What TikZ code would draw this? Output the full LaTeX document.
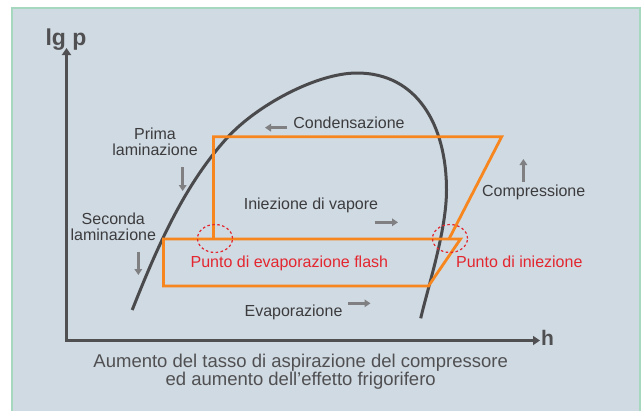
\documentclass[tikz,border=0pt]{standalone}
\usepackage{fontspec}
\setmainfont{Liberation Sans}
\usetikzlibrary{arrows.meta}
\definecolor{panel}{HTML}{D0DAE2}
\definecolor{panelborder}{HTML}{A6D8C0}
\definecolor{cycleorange}{HTML}{F7861F}
\definecolor{domegray}{HTML}{4A4A4C}
\definecolor{axisgray}{HTML}{505052}
\definecolor{arrowgray}{HTML}{808082}
\definecolor{labeltext}{HTML}{3C3C3E}
\definecolor{captiontext}{HTML}{505052}
\definecolor{markred}{HTML}{E3262F}
\tikzset{
  lbl/.style={font=\fontsize{16}{16}\selectfont, text=labeltext, inner sep=0pt, align=center},
  redlbl/.style={font=\fontsize{16}{16}\selectfont, text=markred, inner sep=0pt},
  axislbl/.style={font=\bfseries\fontsize{23}{23}\selectfont, text=axisgray, inner sep=0pt},
  axisline/.style={draw=axisgray, line width=3pt, -{Triangle[width=9pt,length=7pt]}},
  hint/.style={draw=arrowgray, line width=2.6pt, -{Triangle[width=7.5pt,length=6pt]}},
  cycleline/.style={draw=cycleorange, line width=2.8pt, line join=miter},
  dome/.style={draw=domegray, line width=3pt, line cap=butt},
  spot/.style={draw=markred, line width=1.2pt, dash pattern=on 2.5pt off 2.5pt},
}
\begin{document}
\begin{tikzpicture}[x=1pt,y=-1pt]
\useasboundingbox (0,0) rectangle (643,410);
% panel
\fill[white] (0,0) rectangle (643,410);
\draw[fill=panel, draw=panelborder, line width=2pt] (12,8) rectangle (640,420);

% axes
\coordinate (origin) at (66.5,340.5);
\coordinate (ytop) at (66.5,48);
\coordinate (xend) at (540,340.5);
\draw[axisline] (origin) -- (ytop);
\draw[axisline] ([xshift=-1.5pt]origin) -- (xend);
\node[axislbl, anchor=base] (lgp) at (66,45) {lg p};
\node[axislbl, font=\bfseries\fontsize{21}{21}\selectfont, anchor=base west] (hlbl) at (541,345) {h};

% saturation dome
\coordinate (domeA) at (132.2,310);
\coordinate (domeM) at (226.7,138.3);
\coordinate (domeP) at (357,73);
\coordinate (domeR) at (446.5,190);
\coordinate (domeE) at (420.7,318.3);
\draw[dome] (domeA) .. controls (156.2,249.6) and (183.2,186.4) .. (domeM)
  .. controls (256.9,105) and (317,73) .. (domeP)
  .. controls (417,73) and (446.5,125) .. (domeR)
  .. controls (446.5,230) and (428.75,284.35) .. (domeE);

% cycle
\coordinate (bl) at (163.4,286);
\coordinate (ml) at (163.4,239);
\coordinate (mr) at (460.5,239);
\coordinate (br) at (428.5,286);
\coordinate (vb) at (213.5,239);
\coordinate (tl) at (213.5,136.7);
\coordinate (tr) at (501.7,136.7);
\coordinate (inj) at (449,239);
\draw[cycleline] (ml) -- (mr) -- (br) -- (bl) -- cycle;
\draw[cycleline] (vb) -- (tl) -- (tr) -- (inj);

% marked points
\draw[spot] (215,238.5) ellipse [x radius=17.5pt, y radius=14pt];
\draw[spot] (450,238.5) ellipse [x radius=17.5pt, y radius=14pt];

% labels
\node[lbl, anchor=base] (cond) at (349,128.3) {Condensazione};
\coordinate (condA) at (287,127.7);
\coordinate (condB) at (265,127.7);
\draw[hint] (condA) -- (condB);

\node[lbl, anchor=base] (prima) at (155,155.5) {Prima\\laminazione};
\coordinate (primaA) at (182.7,167);
\coordinate (primaB) at (182.7,191);
\draw[hint] (primaA) -- (primaB);

\node[lbl, anchor=base] (seconda) at (113.3,240) {Seconda\\laminazione};
\coordinate (secA) at (138.3,252);
\coordinate (secB) at (138.3,275);
\draw[hint] (secA) -- (secB);

\node[lbl, anchor=base] (iniez) at (311,209.3) {Iniezione di vapore};
\coordinate (iniA) at (374.5,222.3);
\coordinate (iniB) at (398,222.3);
\draw[hint] (iniA) -- (iniB);

\node[lbl, anchor=base] (compr) at (533.7,196.7) {Compressione};
\coordinate (compA) at (523.4,182);
\coordinate (compB) at (523.4,159);
\draw[hint] (compA) -- (compB);

\node[redlbl, anchor=base] (flash) at (289.4,267.7) {Punto di evaporazione flash};
\node[redlbl, anchor=base] (injpt) at (519.3,267.5) {Punto di iniezione};

\node[lbl, anchor=base] (evap) at (293.5,316) {Evaporazione};
\coordinate (evA) at (347.5,303.3);
\coordinate (evB) at (370.5,303.3);
\draw[hint] (evA) -- (evB);

\node[lbl, font=\fontsize{18.5}{18}\selectfont, text=captiontext, anchor=base] (caption) at (300.7,385)
  {Aumento del tasso di aspirazione del compressore\\ed aumento dell’effetto frigorifero};
\end{tikzpicture}
\end{document}
